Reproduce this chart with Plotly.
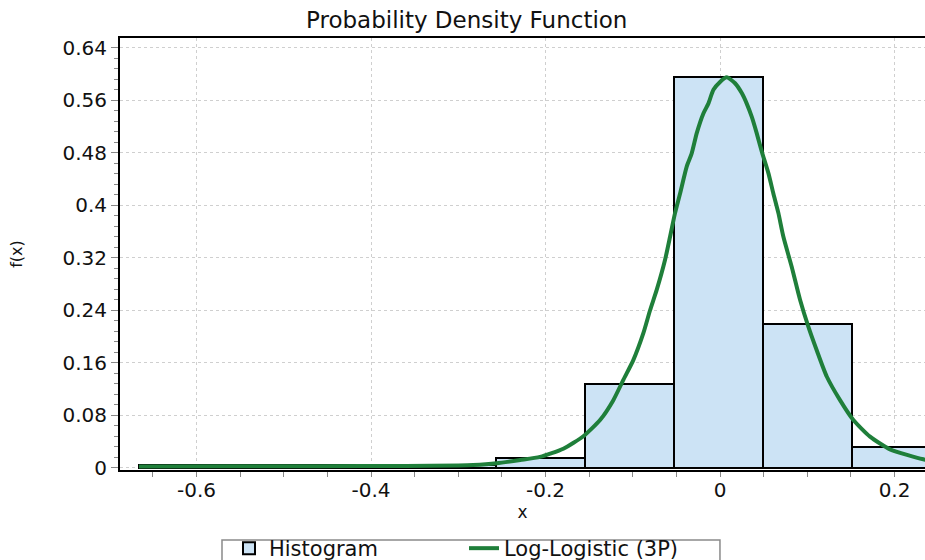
import plotly.graph_objects as go

# ---- data ----
bin_edges = [-0.6659, -0.5637, -0.4615, -0.3593, -0.2571, -0.1549, -0.0527, 0.0495, 0.1517, 0.2539]
hist_density = [0.0045, 0.0045, 0.0045, 0.0045, 0.0143, 0.128, 0.596, 0.219, 0.031]

curve_x = [-0.666, -0.56, -0.46, -0.36, -0.30, -0.283, -0.256, -0.229, -0.2063, -0.1796,
           -0.1567, -0.1375, -0.1223, -0.1108, -0.0994, -0.0879, -0.0802, -0.0726, -0.0630,
           -0.0573, -0.0516, -0.0458, -0.0382, -0.0325, -0.0267, -0.0191, -0.0134, -0.0076,
           0.0, 0.0077, 0.0172, 0.0249, 0.0306, 0.0363, 0.0420, 0.0478, 0.0554, 0.0611,
           0.0669, 0.0726, 0.0822, 0.0917, 0.1012, 0.1108, 0.1223, 0.1375, 0.1528, 0.1719,
           0.1948, 0.2330, 0.2440]
curve_y = [0.0020, 0.0022, 0.0024, 0.0026, 0.0033, 0.0040, 0.0067, 0.0117, 0.0165, 0.029,
           0.048, 0.0727, 0.103, 0.134, 0.164, 0.205, 0.240, 0.271, 0.317,
           0.352, 0.388, 0.418, 0.459, 0.479, 0.510, 0.540, 0.555, 0.576,
           0.588, 0.595, 0.586, 0.571, 0.555, 0.535, 0.510, 0.482, 0.449, 0.418,
           0.388, 0.352, 0.306, 0.256, 0.215, 0.179, 0.139, 0.103, 0.0727, 0.0473,
           0.0280, 0.0128, 0.0100]

x_tickvals = [-0.6, -0.4, -0.2, 0, 0.2]
x_ticktext = ["-0.6", "-0.4", "-0.2", "0", "0.2"]
y_tickvals = [0, 0.08, 0.16, 0.24, 0.32, 0.4, 0.48, 0.56, 0.64]
y_ticktext = ["0", "0.08", "0.16", "0.24", "0.32", "0.4", "0.48", "0.56", "0.64"]

series_names = ["Histogram", "Log-Logistic (3P)"]

# ---- derived bar geometry ----
centers = [(a + b) / 2 for a, b in zip(bin_edges[:-1], bin_edges[1:])]
widths = [b - a for a, b in zip(bin_edges[:-1], bin_edges[1:])]

FONT = "DejaVu Sans, Arial, sans-serif"

fig = go.Figure()
fig.add_trace(go.Bar(
    x=centers, y=hist_density, width=widths, name=series_names[0],
    marker=dict(color="#cce3f5", line=dict(color="black", width=2)),
))
fig.add_trace(go.Scatter(
    x=curve_x, y=curve_y, mode="lines", name=series_names[1],
    line=dict(color="#1f7f3a", width=4, shape="spline", smoothing=0.6),
))

axis_common = dict(
    showline=True, linecolor="black", linewidth=2,
    ticks="outside", tickcolor="#888888", tickwidth=1,
    showgrid=True, gridcolor="#cfcfcf", griddash="dot", gridwidth=1,
    zeroline=False, tickfont=dict(family=FONT, size=20, color="#111111"),
)

# legend frame
fig.add_shape(type="rect", xref="paper", yref="paper",
              x0=0.1267, x1=0.7453, y0=-0.162, y1=-0.25,
              line=dict(color="#8a8a8a", width=1.5), fillcolor="rgba(0,0,0,0)")

fig.update_layout(
    width=925, height=560,
    paper_bgcolor="white", plot_bgcolor="white",
    margin=dict(l=120, r=0, t=38, b=90, autoexpand=False),
    font=dict(family=FONT, size=19, color="#111111"),
    title=dict(text="Probability Density Function", x=0.4307, xref="paper", xanchor="center",
               y=1 - 20 / 560, yref="container", yanchor="middle",
               font=dict(family=FONT, size=23, color="#111111")),
    bargap=0,
    showlegend=True,
    legend=dict(orientation="h", x=0.1354, xanchor="left", y=-0.1343, yanchor="top",
                borderwidth=0, bgcolor="rgba(0,0,0,0)",
                font=dict(family=FONT, size=21, color="#111111"),
                entrywidth=190, traceorder="normal", tracegroupgap=0),
    xaxis=dict(axis_common, range=[-0.6877, 0.2349], tickmode="array",
               tickvals=x_tickvals, ticktext=x_ticktext, mirror=True,
               ticklen=5, ticklabelstandoff=-4,
               minor=dict(dtick=0.05, tick0=0, ticks="outside", ticklen=5,
                          tickcolor="#888888", showgrid=False),
               title=dict(text="x", font=dict(family=FONT, size=17), standoff=0)),
    yaxis=dict(axis_common, range=[-0.0035, 0.655], tickmode="array",
               tickvals=y_tickvals, ticktext=y_ticktext, ticklen=7,
               minor=dict(dtick=0.016, tick0=0, ticks="outside", ticklen=4,
                          tickcolor="#888888", showgrid=False),
               title=dict(text="f(x)", font=dict(family=FONT, size=16), standoff=36)),
)

fig.write_html(
    "out.html",
    config={"displayModeBar": False},
    post_script=("document.body.style.margin='0px';"
                 "document.body.style.overflow='hidden';"
                 "document.documentElement.style.overflow='hidden';"),
)
